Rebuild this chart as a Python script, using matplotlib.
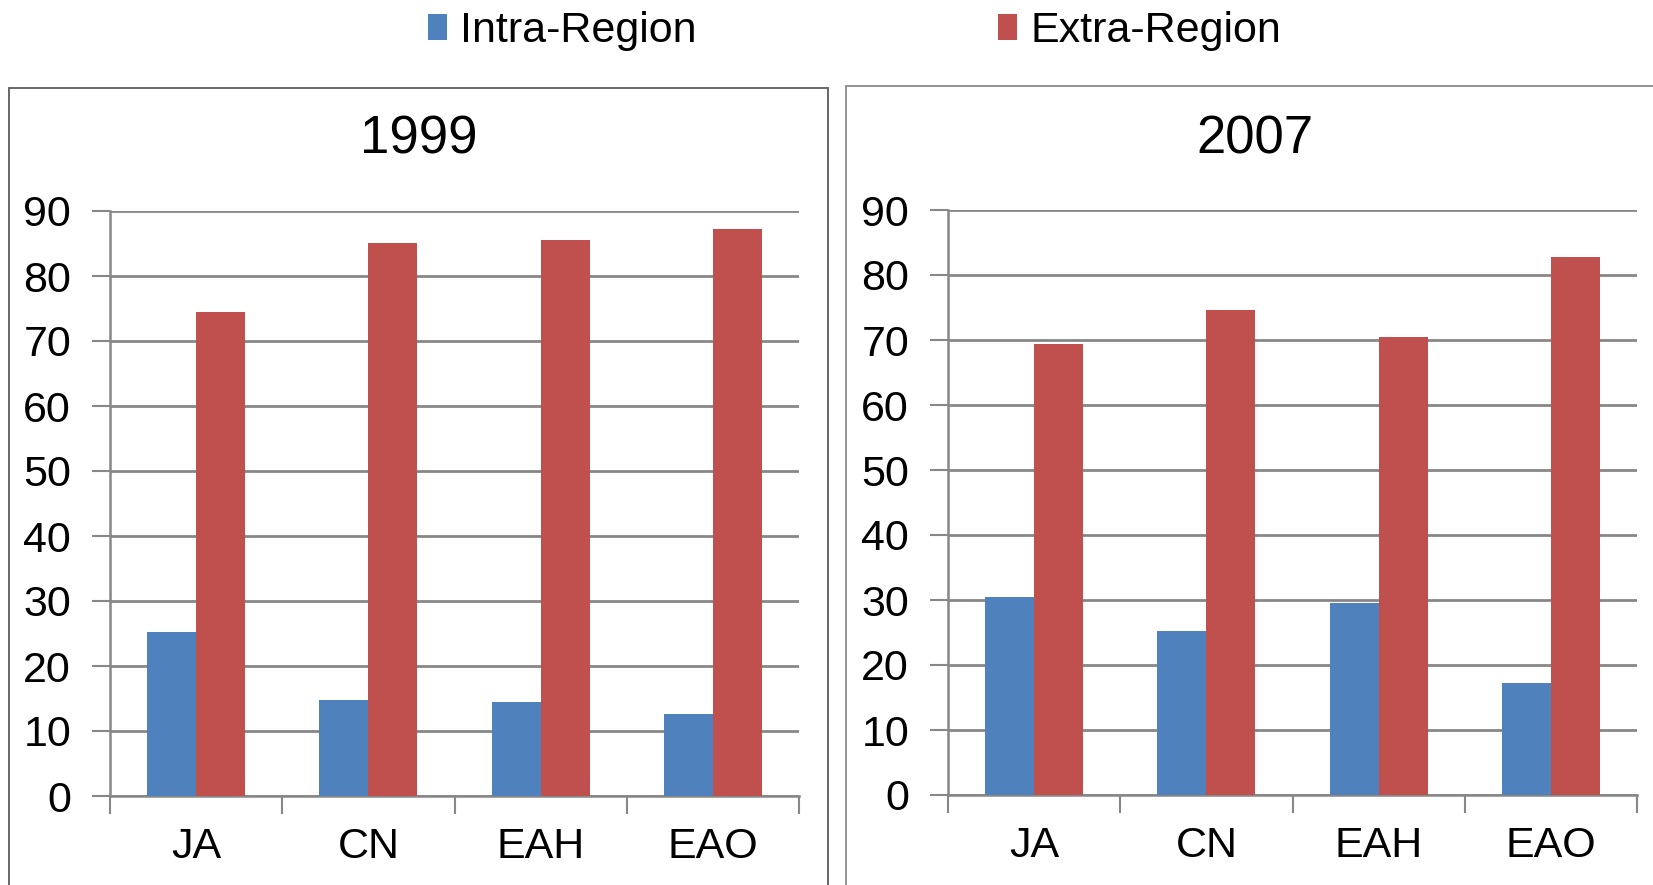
import matplotlib
matplotlib.use("Agg")
import matplotlib.pyplot as plt
from matplotlib.patches import Rectangle, Patch
import numpy as np

plt.rcParams['font.family'] = ['Liberation Sans', 'DejaVu Sans']

categories = ["JA", "CN", "EAH", "EAO"]
years = ["1999", "2007"]
intra_1999 = [25.3, 14.8, 14.4, 12.6]
extra_1999 = [74.5, 85.1, 85.5, 87.2]
intra_2007 = [30.5, 25.3, 29.6, 17.3]
extra_2007 = [69.4, 74.6, 70.4, 82.7]
yticks = [0, 10, 20, 30, 40, 50, 60, 70, 80, 90]
series_names = ["Intra-Region", "Extra-Region"]

BLUE = "#4F81BD"
RED = "#C0504D"
GRID = "#878787"

W, H = 1653, 885
fig = plt.figure(figsize=(W / 100, H / 100), dpi=100)

boxes = [(8.5, 828.5, 88, "#5a5a5a"), (845.5, 1664, 86, "#8a8a8a")]
for bx0, bx1, btop, col in boxes:
    fig.patches.append(Rectangle((bx0 / W, -0.01), (bx1 - bx0) / W, 1.01 - btop / H,
                                 transform=fig.transFigure, fill=False,
                                 edgecolor=col, linewidth=1.3))

panels = [
    (years[0], intra_1999, extra_1999, (110, 799, 211, 796), 418.5),
    (years[1], intra_2007, extra_2007, (948, 1637, 210, 795), 1255),
]

x = np.arange(len(categories))
bw = 0.285
for title, intra, extra, (x0, x1, ytop, ybot), tx in panels:
    ax = fig.add_axes([x0 / W, 1 - ybot / H, (x1 - x0) / W, (ybot - ytop) / H])
    ax.bar(x - bw / 2, intra, width=bw, color=BLUE, zorder=3)
    ax.bar(x + bw / 2, extra, width=bw, color=RED, zorder=3)
    ax.set_xlim(-0.5, len(categories) - 0.5)
    ax.set_ylim(0, 90)
    ax.set_yticks(yticks)
    ax.set_yticklabels([str(v) for v in yticks], fontsize=31)
    ax.grid(axis="y", color=GRID, linewidth=2, zorder=0)
    ax.set_axisbelow(True)
    ax.set_xticks(np.arange(len(categories) + 1) - 0.5)
    ax.set_xticklabels([])
    ax.set_xticks(x, minor=True)
    ax.set_xticklabels(categories, minor=True, fontsize=31)
    ax.tick_params(axis="x", which="minor", length=0, pad=22)
    ax.tick_params(axis="x", which="major", length=13, width=1.5, color=GRID)
    ax.tick_params(axis="y", length=13, width=1.5, color=GRID, pad=15)
    for s in ["top", "right"]:
        ax.spines[s].set_visible(False)
    for s in ["left", "bottom"]:
        ax.spines[s].set_color(GRID)
        ax.spines[s].set_linewidth(1.8)
    fig.text(tx / W, 1 - 139 / H, title, fontsize=38, ha="center", va="center")

handles = [Patch(facecolor=BLUE, edgecolor="none"), Patch(facecolor=RED, edgecolor="none")]
fig.legend(handles, series_names, loc="center", bbox_to_anchor=(0.517, 0.965),
           ncol=2, frameon=False, fontsize=31, handlelength=0.44, handleheight=0.55,
           handletextpad=0.3, columnspacing=7.0)

fig.savefig("out.png", dpi=100)
